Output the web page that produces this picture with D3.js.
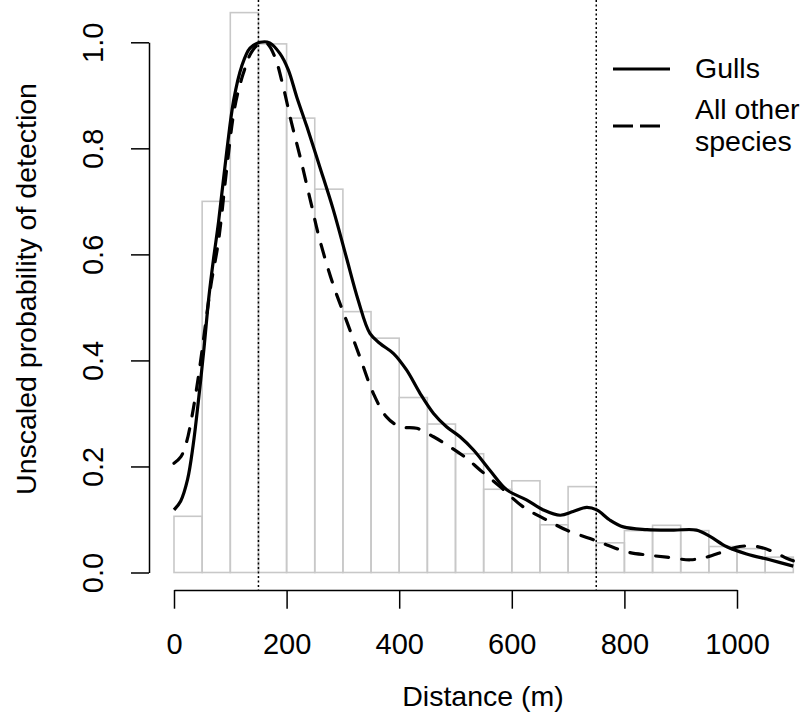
<!DOCTYPE html>
<html>
<head>
<meta charset="utf-8">
<script src="https://cdn.jsdelivr.net/npm/d3@7"></script>
<style>
  body { margin: 0; background: #fff; }
  svg text { font-family: "Liberation Sans", Arial, sans-serif; fill: #000; }
</style>
</head>
<body>
<svg id="chart" width="805" height="713"></svg>
<script>
// histogram bins (start of each 50 m bin) and bar heights
const binStarts = [0, 50, 100, 150, 200, 250, 300, 350, 400, 450, 500, 550,
                   600, 650, 700, 750, 800, 850, 900, 950, 1000, 1050];
const binHeights = [0.106, 0.700, 1.056, 0.997, 0.857, 0.723, 0.492, 0.442, 0.330, 0.280, 0.224, 0.157,
                    0.173, 0.090, 0.162, 0.056, 0.079, 0.089, 0.079, 0.049, 0.045, 0.029];
const binWidth = 50;

// detection curves
const gullsDist = [0, 12, 24, 34, 44, 53, 62, 70, 79, 94, 106, 120, 135, 153, 170, 188, 203, 218, 236, 259, 283,
                   306, 327, 348, 366, 390, 413, 437, 461, 484, 508, 532, 561, 591, 626, 656, 686, 709, 733,
                   751, 774, 798, 840, 887, 928, 952, 981, 1017, 1058, 1100];
const gullsVal = [0.118, 0.135, 0.175, 0.240, 0.330, 0.420, 0.520, 0.590, 0.660, 0.797, 0.891, 0.954, 0.989, 1.000,
                  0.999, 0.979, 0.948, 0.897, 0.841, 0.765, 0.684, 0.595, 0.514, 0.451, 0.432, 0.413, 0.382,
                  0.338, 0.300, 0.275, 0.256, 0.231, 0.193, 0.156, 0.137, 0.118, 0.108, 0.115, 0.123, 0.118,
                  0.099, 0.086, 0.081, 0.080, 0.080, 0.068, 0.049, 0.035, 0.024, 0.012];
const otherDist = [0, 12, 22, 32, 42, 50, 58, 66, 79, 94, 108, 123, 138, 153, 165, 179, 194, 209, 224, 242, 259,
                   283, 306, 330, 354, 377, 401, 431, 461, 490, 520, 544, 579, 620, 662, 697, 739, 769, 804,
                   840, 875, 917, 946, 975, 1005, 1035, 1065, 1088, 1100];
const otherVal = [0.206, 0.218, 0.245, 0.295, 0.360, 0.420, 0.485, 0.545, 0.625, 0.765, 0.878, 0.941, 0.982, 0.998,
                  0.998, 0.973, 0.916, 0.847, 0.784, 0.703, 0.627, 0.542, 0.476, 0.407, 0.338, 0.294, 0.275,
                  0.272, 0.256, 0.237, 0.215, 0.193, 0.162, 0.124, 0.099, 0.080, 0.064, 0.052, 0.039, 0.033,
                  0.029, 0.024, 0.029, 0.039, 0.049, 0.049, 0.039, 0.027, 0.022];

const vLines = [150, 750];
const xTicks = [0, 200, 400, 600, 800, 1000];
const yTicks = [0, 0.2, 0.4, 0.6, 0.8, 1.0];
const legendLabels = [["Gulls"], ["All other", "species"]];

const svg = d3.select("#chart");

// scales
const x = d3.scaleLinear().domain([0, 1000]).range([174, 737]);
const y = d3.scaleLinear().domain([0, 1]).range([572.5, 42.3]);

const plotBottom = 590, plotLeft = 149;

// histogram
svg.append("g")
  .selectAll("rect")
  .data(binStarts)
  .enter()
  .append("rect")
  .attr("x", (d) => x(d))
  .attr("y", (d, i) => y(binHeights[i]))
  .attr("width", (d) => x(d + binWidth) - x(d))
  .attr("height", (d, i) => y(0) - y(binHeights[i]))
  .attr("fill", "none")
  .attr("stroke", "#c8c8c8")
  .attr("stroke-width", 1.6);

// dotted verticals
svg.append("g")
  .selectAll("line")
  .data(vLines)
  .enter()
  .append("line")
  .attr("x1", (d) => x(d)).attr("x2", (d) => x(d))
  .attr("y1", 0).attr("y2", plotBottom)
  .attr("stroke", "#000")
  .attr("stroke-width", 1.5)
  .attr("stroke-dasharray", "2,2.5");

// curves
const line = d3.line()
  .x((d) => x(d[0]))
  .y((d) => y(d[1]))
  .curve(d3.curveCatmullRom.alpha(0.5));

svg.append("path")
  .datum(gullsDist.map((d, i) => [d, gullsVal[i]]))
  .attr("d", line)
  .attr("fill", "none")
  .attr("stroke", "#000")
  .attr("stroke-width", 3.2)
  .attr("stroke-linejoin", "round");

svg.append("path")
  .datum(otherDist.map((d, i) => [d, otherVal[i]]))
  .attr("d", line)
  .attr("fill", "none")
  .attr("stroke", "#000")
  .attr("stroke-width", 3.2)
  .attr("stroke-linecap", "round")
  .attr("stroke-dasharray", "13,13");

// x axis
const xAxis = svg.append("g")
  .attr("transform", `translate(0,${plotBottom})`)
  .call(d3.axisBottom(x).tickValues(xTicks).tickFormat(d3.format("d"))
    .tickSize(18.7).tickSizeOuter(0).tickPadding(24.3));
xAxis.selectAll("path, line").attr("stroke", "#000").attr("stroke-width", 1.5);
xAxis.selectAll("text").style("font-size", "29px").style("font-family", "Liberation Sans, Arial, sans-serif");

// y axis
const yAxis = svg.append("g")
  .attr("transform", `translate(${plotLeft},0)`)
  .call(d3.axisLeft(y).tickValues(yTicks).tickFormat(d3.format(".1f"))
    .tickSize(18).tickSizeOuter(0));
yAxis.selectAll("path, line").attr("stroke", "#000").attr("stroke-width", 1.5);
yAxis.selectAll("text")
  .attr("transform", "rotate(-90)")
  .attr("x", 0)
  .attr("y", -46)
  .attr("dy", 0)
  .attr("text-anchor", "middle")
  .style("font-size", "29px")
  .style("font-family", "Liberation Sans, Arial, sans-serif");

// axis titles
svg.append("text")
  .attr("x", 483)
  .attr("y", 706)
  .attr("text-anchor", "middle")
  .style("font-size", "28.5px")
  .text("Distance (m)");

svg.append("text")
  .attr("transform", "rotate(-90)")
  .attr("x", -289)
  .attr("y", 36)
  .attr("text-anchor", "middle")
  .style("font-size", "28.5px")
  .text("Unscaled probability of detection");

// legend
const legend = svg.append("g");
const legendY = [69, 126];
const legendEnd = [670, 660];
const legendDash = [null, "20,7"];
const legendTextY = [78, 119];
legendLabels.forEach((lines, i) => {
  legend.append("line")
    .attr("x1", 613).attr("x2", legendEnd[i])
    .attr("y1", legendY[i]).attr("y2", legendY[i])
    .attr("stroke", "#000")
    .attr("stroke-width", 3.2)
    .attr("stroke-dasharray", legendDash[i]);
  const t = legend.append("text")
    .attr("x", 695)
    .attr("y", legendTextY[i])
    .style("font-size", "28.5px");
  lines.forEach((s, j) => {
    t.append("tspan").attr("x", 695).attr("dy", j === 0 ? 0 : 32).text(s);
  });
});
</script>
</body>
</html>
